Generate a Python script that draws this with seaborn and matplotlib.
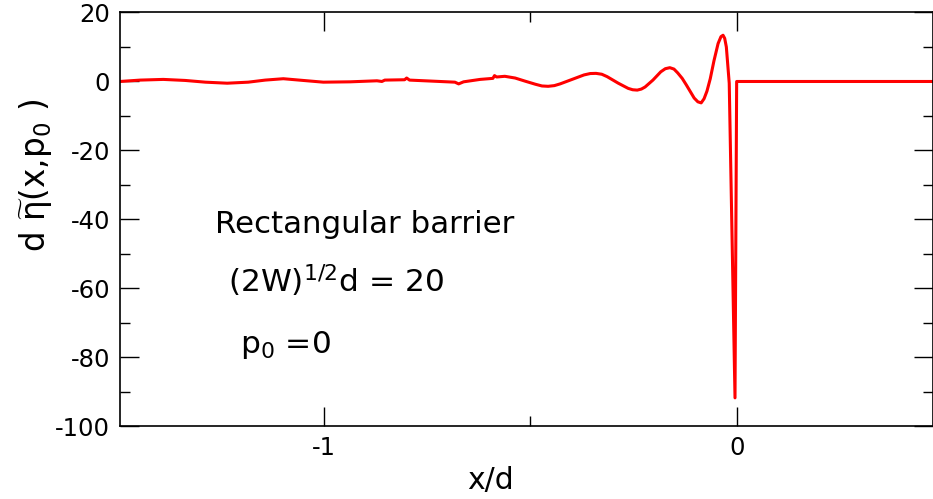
import numpy as np
import pandas as pd
import matplotlib
matplotlib.use("Agg")
import matplotlib.pyplot as plt
from matplotlib.ticker import MultipleLocator
import seaborn as sns

# values
x_over_d = [-1.495, -1.446, -1.390, -1.337, -1.288, -1.235, -1.184, -1.143, -1.099, -1.051,
            -1.002, -0.937, -0.872, -0.860, -0.853, -0.805, -0.800, -0.793, -0.738, -0.683,
            -0.674, -0.662, -0.622, -0.591, -0.587, -0.582, -0.562, -0.537, -0.513, -0.488,
            -0.472, -0.457, -0.442, -0.428, -0.399, -0.370, -0.355, -0.341, -0.327, -0.314,
            -0.287, -0.263, -0.252, -0.241, -0.231, -0.222, -0.203, -0.184, -0.173, -0.162,
            -0.152, -0.143, -0.132, -0.122, -0.112, -0.103, -0.094, -0.086, -0.079, -0.072,
            -0.064, -0.055, -0.045, -0.038, -0.033, -0.029, -0.025, -0.018, -0.004, 0.0,
            0.48]
eta_tilde = [0.0, 0.4, 0.6, 0.3, -0.2, -0.5, -0.2, 0.4, 0.8, 0.3,
             -0.2, -0.1, 0.2, 0.0, 0.4, 0.5, 1.0, 0.4, 0.1, -0.2,
             -0.7, -0.1, 0.6, 0.9, 1.7, 1.3, 1.5, 1.0, 0.1, -0.8,
             -1.3, -1.4, -1.2, -0.7, 0.6, 1.9, 2.3, 2.35, 2.1, 1.4,
             -0.5, -2.0, -2.4, -2.5, -2.2, -1.6, 0.4, 2.8, 3.7, 4.0,
             3.6, 2.5, 0.9, -1.0, -3.0, -4.8, -5.9, -6.2, -5.0, -2.8,
             0.8, 6.0, 11.0, 13.0, 13.4, 12.5, 10.0, -0.5, -91.7, 0.0,
             0.0]

xticks = [-1, 0]
xtick_labels = ["-1", "0"]
yticks = [-100, -80, -60, -40, -20, 0, 20]

df = pd.DataFrame({"x": x_over_d, "eta": eta_tilde})

sns.set_style("ticks")
plt.rcParams['font.family'] = ['DejaVu Sans']
plt.rcParams['mathtext.default'] = 'regular'
plt.rcParams['axes.unicode_minus'] = False
plt.rcParams['text.color'] = 'black'
plt.rcParams['axes.labelcolor'] = 'black'
plt.rcParams['xtick.color'] = 'black'
plt.rcParams['ytick.color'] = 'black'

fig = plt.figure(figsize=(9.33, 4.99), dpi=100)
ax = fig.add_axes([0.1286, 0.1453, 0.8714, 0.8297])

sns.lineplot(data=df, x="x", y="eta", color="red", linewidth=2.2,
             estimator=None, sort=False, ax=ax)

ax.set_xlim(-1.495, 0.476)
ax.set_ylim(-100, 20)
ax.set_xticks(xticks)
ax.set_xticklabels(xtick_labels)
ax.set_yticks(yticks)
ax.xaxis.set_minor_locator(MultipleLocator(0.5))
ax.yaxis.set_minor_locator(MultipleLocator(10))

ax.tick_params(which='both', direction='in', top=True, right=True,
               width=1, colors='black', labelsize=17.5, pad=7)
ax.tick_params(which='major', length=13.7)
ax.tick_params(which='minor', length=7.2)
for s in ax.spines.values():
    s.set_linewidth(1.2)
    s.set_color('black')

ax.set_xlabel("x/d", fontsize=21.5)
ax.xaxis.set_label_coords(0.456, -0.095)
ax.set_ylabel(r"d $\widetilde{\eta}$(x,p$_0$ )", fontsize=23.5)
ax.yaxis.set_label_coords(-0.08, 0.607)

fig.text(0.2304, 0.533, "Rectangular barrier", fontsize=22.2, va='baseline')
fig.text(0.2444, 0.4148, r"(2W)$^{1/2}$d = 20", fontsize=22.5, va='baseline')
fig.text(0.2572, 0.2926, r"p$_0$ =0", fontsize=22.5, va='baseline')

fig.savefig("out.png", dpi=100)
